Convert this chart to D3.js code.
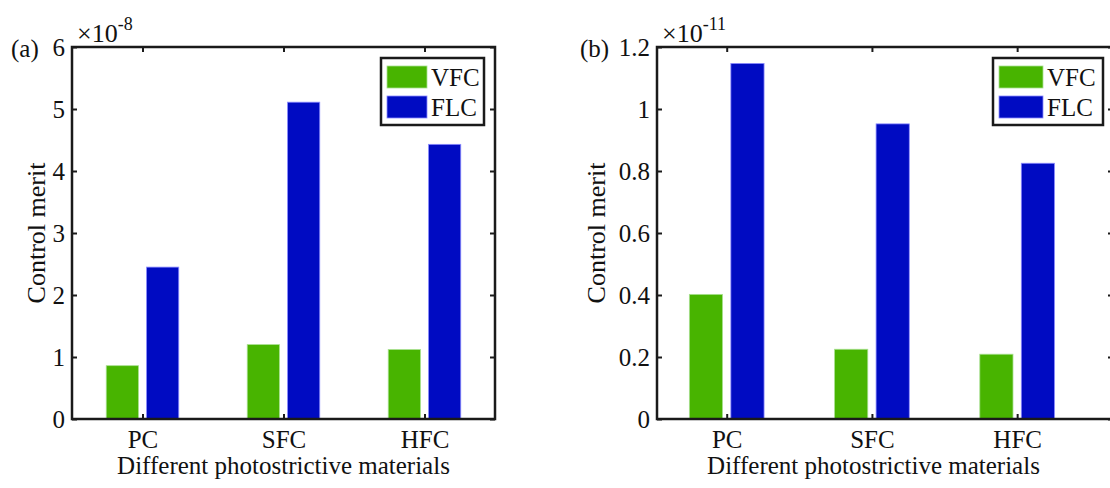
<!DOCTYPE html>
<html>
<head>
<meta charset="utf-8">
<script src="https://cdn.jsdelivr.net/npm/d3@7"></script>
<style>
    body { margin: 0; background: #fff; }
    svg { display: block; }
    text { font-family: "Liberation Serif", "Times New Roman", serif; fill: #111; }
</style>
</head>
<body>
<div id="chart"></div>
<script>
// values (in units of the axis multiplier)
var categories = ['PC', 'SFC', 'HFC'];
var seriesNames = ['VFC', 'FLC'];
var seriesColors = ['#48b400', '#000bc2'];
var seriesEdges = ['#a8e090', '#8c8cff'];

var vfcA = [0.86, 1.20, 1.12];
var flcA = [2.45, 5.11, 4.43];
var ticksA = [0, 1, 2, 3, 4, 5, 6];

var vfcB = [0.402, 0.225, 0.209];
var flcB = [1.147, 0.952, 0.825];
var ticksB = [0, 0.2, 0.4, 0.6, 0.8, 1, 1.2];

var W = 1110, H = 488;
var svg = d3.select('#chart').append('svg').attr('width', W).attr('height', H);

function drawPanel(p) {
    var x = d3.scaleLinear().domain(p.xDomain).range([p.left, p.right]);
    var y = d3.scaleLinear().domain([0, p.yMax]).range([p.bottom, p.top]);
    var unit = x(2) - x(1);
    var g = svg.append('g');

    // bars (MATLAB grouped bar: offset +-0.143, width 0.2286)
    var offsets = [-0.1429, 0.1429];
    var bw = 0.2286;
    p.series.forEach(function (vals, si) {
        g.selectAll('rect.s' + si)
            .data(vals)
            .enter()
            .append('rect')
            .attr('x', function (d, i) { return x(i + 1 + offsets[si] - bw / 2); })
            .attr('width', bw * unit)
            .attr('y', function (d) { return y(d); })
            .attr('height', function (d) { return y(0) - y(d); })
            .attr('fill', seriesColors[si])
            .attr('stroke', seriesEdges[si])
            .attr('stroke-width', 0.8);
    });

    var fmt = function (d) { return String(+d.toFixed(1)); };
    var tickVals = categories.map(function (c, i) { return i + 1; });

    var bottom = g.append('g').attr('transform', 'translate(0,' + p.bottom + ')')
        .call(d3.axisBottom(x).tickValues(tickVals).tickSize(-5).tickPadding(11)
            .tickFormat(function (d) { return categories[d - 1]; }));
    var top = g.append('g').attr('transform', 'translate(0,' + p.top + ')')
        .call(d3.axisTop(x).tickValues(tickVals).tickSize(-5).tickFormat(''));
    var left = g.append('g').attr('transform', 'translate(' + p.left + ',0)')
        .call(d3.axisLeft(y).tickValues(p.ticks).tickSize(-5).tickPadding(7).tickFormat(fmt));
    var right = g.append('g').attr('transform', 'translate(' + p.right + ',0)')
        .call(d3.axisRight(y).tickValues(p.ticks).tickSize(-5).tickFormat(''));

    [bottom, top, left, right].forEach(function (a) {
        a.select('.domain').remove();
        a.selectAll('line').attr('stroke', '#1a1a1a').attr('stroke-width', 2);
        a.selectAll('text').style('font-family', '"Liberation Serif", serif')
            .style('font-size', '25px').attr('fill', '#111');
    });
    bottom.selectAll('text').attr('dy', '0.71em');

    // axis box
    g.append('rect')
        .attr('x', p.left).attr('y', p.top)
        .attr('width', p.right - p.left).attr('height', p.bottom - p.top)
        .attr('fill', 'none').attr('stroke', '#1a1a1a').attr('stroke-width', 2.5);

    // axis titles
    g.append('text')
        .attr('x', (p.left + Math.min(p.right, W)) / 2 + p.xLabelShift).attr('y', 474)
        .attr('text-anchor', 'middle').style('font-size', '25px')
        .text('Different photostrictive materials');
    g.append('text')
        .attr('transform', 'translate(' + p.yLabelX + ',' + ((p.top + p.bottom) / 2) + ') rotate(-90)')
        .attr('text-anchor', 'middle').style('font-size', '26px')
        .text('Control merit');

    // multiplier and panel tag
    var mult = g.append('text').attr('x', p.left + 5).attr('y', 42).style('font-size', '26px');
    mult.append('tspan').text('\u00d710');
    mult.append('tspan').attr('dy', -12).style('font-size', '18px').text(p.exponent);
    g.append('text').attr('x', p.tagX).attr('y', 57).style('font-size', '25px').text(p.tag);

    // legend
    var L = p.legend;
    g.append('rect').attr('x', L.x).attr('y', L.y).attr('width', L.w).attr('height', L.h)
        .attr('fill', '#fff').attr('stroke', '#1a1a1a').attr('stroke-width', 2.5);
    seriesNames.forEach(function (name, si) {
        var yy = L.y + 8 + si * 30;
        g.append('rect').attr('x', L.x + 6).attr('y', yy).attr('width', L.sw).attr('height', 22)
            .attr('fill', seriesColors[si]).attr('stroke', seriesEdges[si]).attr('stroke-width', 0.8);
        g.append('text').attr('x', L.x + 10 + L.sw).attr('y', yy + 11).attr('dy', '0.35em')
            .style('font-size', '25px').text(name);
    });
}

drawPanel({
    left: 72, right: 495, top: 47, bottom: 419,
    xDomain: [0.5, 3.5], yMax: 6, ticks: ticksA,
    series: [vfcA, flcA], exponent: '-8', tag: '(a)', tagX: 11,
    yLabelX: 45, xLabelShift: 0,
    legend: { x: 381, y: 58, w: 103, h: 67, sw: 40 }
});

drawPanel({
    left: 657, right: 1113, top: 47, bottom: 419,
    xDomain: [0.52, 3.66], yMax: 1.2, ticks: ticksB,
    series: [vfcB, flcB], exponent: '-11', tag: '(b)', tagX: 580,
    yLabelX: 605, xLabelShift: -10,
    legend: { x: 993, y: 58, w: 110, h: 67, sw: 44 }
});
</script>
</body>
</html>
